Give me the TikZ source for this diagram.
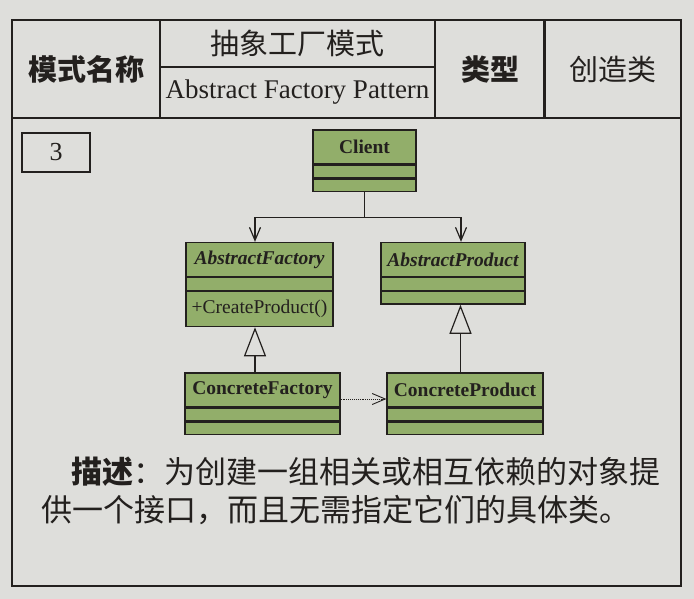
\documentclass[tikz,border=0pt]{standalone}
\usepackage{fontspec}
\setmainfont{Liberation Serif}
\newfontfamily\cjk{Noto Sans CJK SC}
\usetikzlibrary{arrows.meta,positioning}

\definecolor{paper}{RGB}{222,222,219}
\definecolor{umlgreen}{RGB}{146,174,106}
\definecolor{ink}{RGB}{35,32,30}

\tikzset{
  cell/.style={draw=ink, line width=1.4pt, inner sep=1pt, text=ink,
    font=\cjk\fontsize{29}{31}\selectfont},
  cellbold/.style={cell, font=\cjk\bfseries\fontsize{29}{31}\selectfont},
  classname/.style={draw=ink, fill=umlgreen, line width=1.3pt, inner sep=0pt,
    minimum height=34pt, text=ink, font=\bfseries\fontsize{19.5}{21}\selectfont},
  compart/.style={draw=ink, fill=umlgreen, line width=1.3pt, inner sep=0pt,
    minimum height=12.5pt},
  assoc/.style={draw=ink, line width=1.2pt, -{Straight Barb[length=13pt,width=11pt]}},
  inherit/.style={draw=ink, line width=1.2pt, -{Triangle[open,length=29pt,width=22pt,fill=paper]}},
  depend/.style={draw=ink, line width=0.9pt, densely dotted, -{Straight Barb[length=13pt,width=11pt]}},
  desctext/.style={anchor=base west, inner sep=0pt, text=ink, font=\cjk\fontsize{31}{38}\selectfont}
}

\begin{document}
\begin{tikzpicture}[x=1pt,y=-1pt]
  \fill[paper] (0,0) rectangle (694,599);
  \useasboundingbox (0,0) rectangle (694,599);

  % header row
  \node[cellbold, minimum width=148pt, minimum height=98pt] (namecell) at (86,69) {模式名称};
  \node[cell, minimum width=275pt, minimum height=47pt] (zhcell) at (297.5,43.5) {抽象工厂模式};
  \node[cell, minimum width=275pt, minimum height=51pt, font=\fontsize{27}{29}\selectfont] (encell) at (297.5,92.5) {Abstract Factory Pattern};
  \node[cellbold, minimum width=110pt, minimum height=98pt] (typecell) at (490,69) {类型};
  \node[cell, minimum width=137pt, minimum height=98pt] (kindcell) at (612.5,69) {创造类};

  % body frame
  \draw[ink, line width=1.4pt] (12,118) rectangle (681,586);
  \node[cell, minimum width=68pt, minimum height=39pt, font=\fontsize{26}{28}\selectfont] (numbox) at (56,152.5) {3};

  % classes
  \node[classname, minimum width=103pt] (client) at (364.5,147) {Client};
  \node[compart, minimum width=103pt, below=0pt of client] (client-attr) {};
  \node[compart, minimum width=103pt, below=0pt of client-attr] (client-ops) {};

  \node[classname, minimum width=147pt, font=\bfseries\itshape\fontsize{19.5}{21}\selectfont] (af) at (259.5,259.5) {AbstractFactory};
  \node[compart, minimum width=147pt, below=0pt of af] (af-attr) {};
  \node[compart, minimum width=147pt, minimum height=35pt, text=ink, font=\fontsize{19.5}{21}\selectfont, below=0pt of af-attr] (af-ops) {+CreateProduct()};

  \node[classname, minimum width=144pt, font=\bfseries\itshape\fontsize{19.5}{21}\selectfont] (ap) at (453,259.5) {AbstractProduct};
  \node[compart, minimum width=144pt, below=0pt of ap] (ap-attr) {};
  \node[compart, minimum width=144pt, below=0pt of ap-attr] (ap-ops) {};

  \node[classname, minimum width=155pt] (cf) at (262.5,390) {ConcreteFactory};
  \node[compart, minimum width=155pt, below=0pt of cf] (cf-attr) {};
  \node[compart, minimum width=155pt, below=0pt of cf-attr] (cf-ops) {};

  \node[classname, minimum width=156pt] (cp) at (465,390) {ConcreteProduct};
  \node[compart, minimum width=156pt, below=0pt of cp] (cp-attr) {};
  \node[compart, minimum width=156pt, below=0pt of cp-attr] (cp-ops) {};

  % relations
  \draw[ink, line width=1.2pt] (client-ops.south) -- ++(0,25) coordinate (fork);
  \draw[assoc] (fork) -| ([xshift=-4.5pt]af.north);
  \draw[assoc] (fork) -| ([xshift=8pt]ap.north);
  \draw[inherit] ([xshift=-7.5pt]cf.north) -- ([xshift=-7.5pt]cf.north |- af-ops.south);
  \draw[inherit] ([xshift=-4.5pt]cp.north) -- ([xshift=-4.5pt]cp.north |- ap-ops.south);
  \draw[depend] ([yshift=-9pt]cf.east) -- ([yshift=-9pt]cf.east -| cp.west);

  % description
  \node[desctext] (desc1) at (71,483) {\textbf{描述}：为创建一组相关或相互依赖的对象提};
  \node[desctext] (desc2) at (41,521) {供一个接口，而且无需指定它们的具体类。};
\end{tikzpicture}
\end{document}
